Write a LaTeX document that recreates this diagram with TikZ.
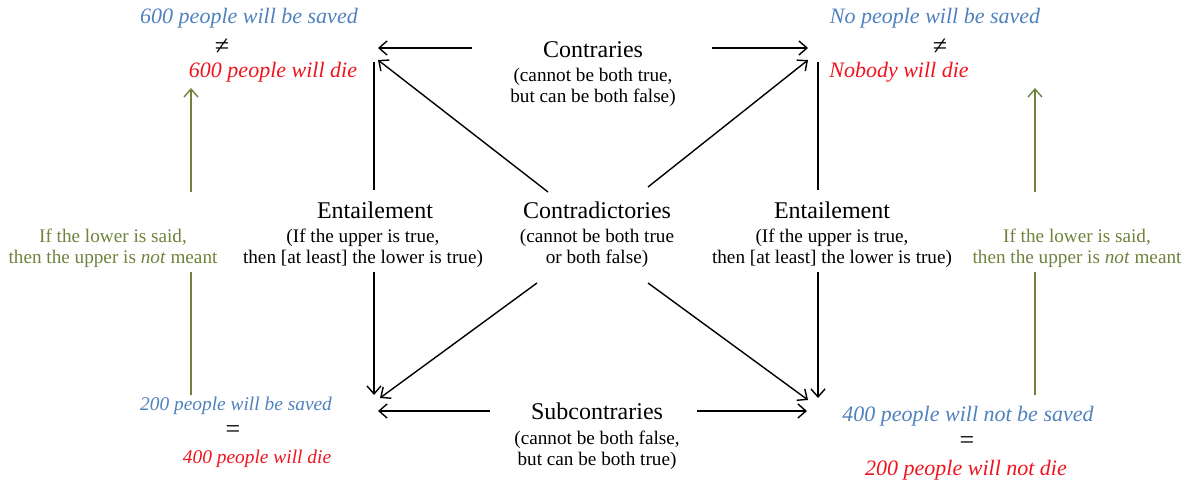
\documentclass[tikz,border=0pt]{standalone}
\usepackage{fontspec}
\setmainfont{Liberation Serif}
\usetikzlibrary{arrows.meta,positioning}
\definecolor{saveblue}{RGB}{79,129,189}
\definecolor{diered}{RGB}{238,20,30}
\definecolor{hintgreen}{RGB}{112,130,60}

\begin{document}
\begin{tikzpicture}[
    x=0.5pt, y=-0.5pt,
    title/.style={font=\fontsize{12}{14}\selectfont, inner sep=1pt},
    gloss/.style={font=\fontsize{9.6}{10.5}\selectfont, align=center, inner sep=1pt},
    saved/.style={font=\fontsize{#1}{13}\selectfont\itshape, text=saveblue, inner sep=1pt},
    saved/.default=11,
    died/.style={font=\fontsize{#1}{13}\selectfont\itshape, text=diered, inner sep=1pt},
    died/.default=11,
    rel/.style={font=\fontsize{13}{14}\selectfont, inner sep=1pt},
    hint/.style={font=\fontsize{9.6}{10.5}\selectfont, align=center, text=hintgreen, inner sep=1pt},
    link/.style={line width=0.7pt},
    hintlink/.style={line width=0.7pt, draw=hintgreen},
    >={Straight Barb[length=4pt,width=7pt]}
  ]
  \useasboundingbox (0,0) rectangle (1203,485);

  % Corner statements
  \node[saved] (s600)  at (249,18)  {600 people will be saved};
  \node[rel]   (ne600) at (222,47)  {≠};
  \node[died]  (d600)  at (273,72)  {600 people will die};

  \node[saved] (s0)    at (935,18)  {No people will be saved};
  \node[rel]   (ne0)   at (940,47)  {≠};
  \node[died]  (d0)    at (899,72)  {Nobody will die};

  \node[saved=9.7] (s200)  at (236,406) {200 people will be saved};
  \node[rel]       (eq200) at (233,432) {=};
  \node[died=9.7]  (d400)  at (257,459) {400 people will die};

  \node[saved] (s400)  at (968,416) {400 people will not be saved};
  \node[rel]   (eq400) at (967,443) {=};
  \node[died]  (d200)  at (966,470) {200 people will not die};

  % Relations
  \node[title] (ctr)    at (593,50)  {Contraries};
  \node[gloss] (ctrsub) at (593,87)  {(cannot be both true,\\but can be both false)};
  \node[title] (cdt)    at (597,210) {Contradictories};
  \node[gloss] (cdtsub) at (597,248) {(cannot be both true\\or both false)};
  \node[title] (sub)    at (597,411) {Subcontraries};
  \node[gloss] (subsub) at (597,450) {(cannot be both false,\\but can be both true)};
  \node[title] (entL)   at (375,210) {Entailement};
  \node[gloss] (entLsub) at (363,248) {(If the upper is true,\\then [at least] the lower is true)};
  \node[title] (entR)   at (832,210) {Entailement};
  \node[gloss] (entRsub) at (832,248) {(If the upper is true,\\then [at least] the lower is true)};
  \node[hint]  (hintL)  at (113,248) {If the lower is said,\\then the upper is \textit{not} meant};
  \node[hint]  (hintR)  at (1077,248) {If the lower is said,\\then the upper is \textit{not} meant};

  % Arrow ends
  \coordinate (ctrL) at (472,48);  \coordinate (tlA) at (378,48);
  \coordinate (ctrR) at (712,48);  \coordinate (trA) at (808,48);
  \coordinate (cdTL) at (548,192); \coordinate (tlB) at (378,60);
  \coordinate (cdTR) at (648,187); \coordinate (trB) at (808,60);
  \coordinate (cdBL) at (537,283); \coordinate (blB) at (380,398);
  \coordinate (cdBR) at (648,283); \coordinate (brB) at (808,400);
  \coordinate (subL) at (490,411); \coordinate (blA) at (378,411);
  \coordinate (subR) at (697,411); \coordinate (brA) at (807,411);
  \coordinate (vL1) at (374,62);   \coordinate (vL2) at (374,190);
  \coordinate (vL3) at (374,272);  \coordinate (vL4) at (374,395);
  \coordinate (vR1) at (818,62);   \coordinate (vR2) at (818,190);
  \coordinate (vR3) at (818,272);  \coordinate (vR4) at (818,398);
  \coordinate (gL1) at (191,88);   \coordinate (gL2) at (191,192);
  \coordinate (gL3) at (191,272);  \coordinate (gL4) at (191,395);
  \coordinate (gR1) at (1035,88);  \coordinate (gR2) at (1035,192);
  \coordinate (gR3) at (1035,272); \coordinate (gR4) at (1035,395);

  % Arrows
  \foreach \i/\j in {ctrL/tlA, ctrR/trA, cdTL/tlB, cdTR/trB, cdBL/blB, cdBR/brB,
                     subL/blA, subR/brA, vL3/vL4, vR3/vR4} {
    \draw[->, link] (\i) -- (\j);
  }
  \draw[link] (vL1) -- (vL2);
  \draw[link] (vR1) -- (vR2);

  % Implicature
  \draw[->, hintlink] (gL2) -- (gL1);
  \draw[->, hintlink] (gR2) -- (gR1);
  \draw[hintlink] (gL3) -- (gL4);
  \draw[hintlink] (gR3) -- (gR4);
\end{tikzpicture}
\end{document}
